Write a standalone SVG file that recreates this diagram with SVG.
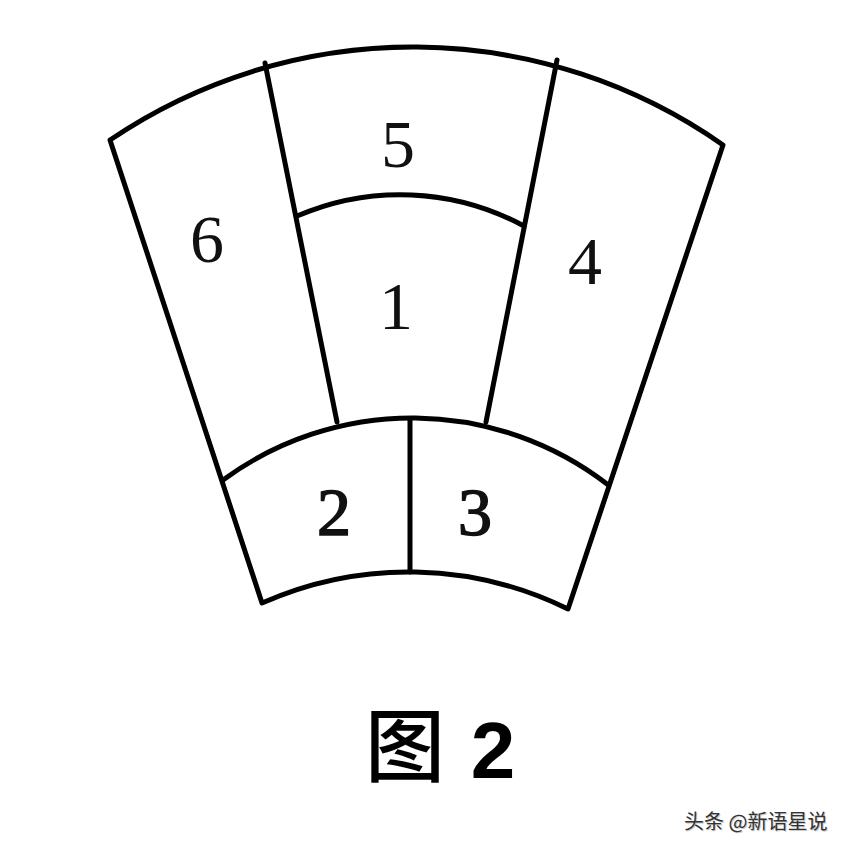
<svg xmlns="http://www.w3.org/2000/svg" width="857" height="845" viewBox="0 0 857 845">
<style>
.ln{fill:none;stroke:#000;stroke-width:5;stroke-linecap:round;stroke-linejoin:round}
.num{font-family:"Liberation Serif","Times New Roman",serif;font-size:68px;fill:#111;text-anchor:middle}
.heavy{stroke:#111;stroke-width:1.6}
.wm{font-family:"Noto Sans CJK SC","Noto Sans",sans-serif;font-size:20px}
</style>
<rect width="857" height="845" fill="#fff"/>
<g id="outline">
<path class="ln" d="M110,140 A540,540 0 0 1 723,145 L568,609 A361,361 0 0 0 262,603 Z"/>
<path class="ln" d="M265,63 L337,422"/>
<path class="ln" d="M557,60 L486,422"/>
<path class="ln" d="M297,216 A260,260 0 0 1 524,226"/>
<path class="ln" d="M223,480 A320,320 0 0 1 607,484"/>
<path class="ln" d="M410,419 L410,572"/>
</g>
<g id="labels">
<text class="num" x="398" y="167">5</text>
<text class="num" x="207" y="262">6</text>
<text class="num" x="396" y="329">1</text>
<text class="num" x="585" y="284">4</text>
<text class="num heavy" x="334" y="535">2</text>
<text class="num heavy" x="475" y="535">3</text>
</g>
<g id="title">
<text x="405" y="775" font-family="Noto Sans CJK SC,sans-serif" font-weight="500" font-size="80" text-anchor="middle" fill="#000">图</text>
<text x="493" y="778" font-family="Liberation Sans,Arial,sans-serif" font-weight="bold" font-size="80" text-anchor="middle" fill="#000">2</text>
</g>
<g id="watermark">
<text class="wm" x="684" y="829" fill="#ccc" transform="translate(1,1)">头条 @新语星说</text>
<text class="wm" x="684" y="829" fill="#333">头条 @新语星说</text>
</g>
</svg>
